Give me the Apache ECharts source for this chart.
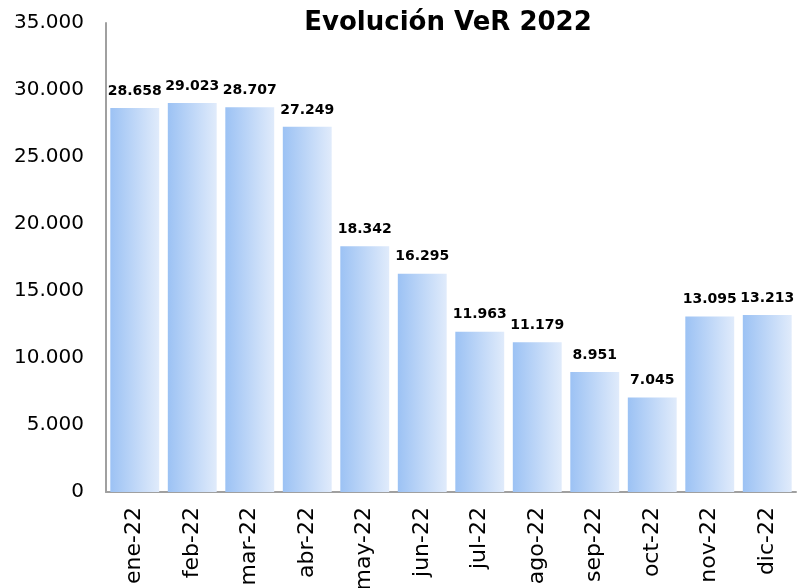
<!DOCTYPE html>
<html>
<head>
<meta charset="utf-8">
<script src="https://cdn.jsdelivr.net/npm/echarts@6/dist/echarts.min.js"></script>
<style>
  html, body { margin: 0; padding: 0; background: #fff; }
  #chart { width: 797px; height: 588px; }
</style>
</head>
<body>
<div id="chart"></div>
<script>
// datos
const months = ["ene-22", "feb-22", "mar-22", "abr-22", "may-22", "jun-22",
  "jul-22", "ago-22", "sep-22", "oct-22", "nov-22", "dic-22"]
const ver = [28658, 29023, 28707, 27249, 18342, 16295, 11963, 11179, 8951, 7045, 13095, 13213]

const fmt = v => String(v).replace(/\B(?=(\d{3})+(?!\d))/g, ".")

const chart = echarts.init(document.getElementById("chart"))

chart.setOption({
  animation: false,
  backgroundColor: "#fff",
  textStyle: { fontFamily: "DejaVu Sans" },
  title: {
    text: "Evolución VeR 2022",
    left: 443,
    top: 5,
    textAlign: "center",
    textStyle: { fontFamily: "DejaVu Sans", fontSize: 26, fontWeight: "bold", color: "#000" },
  },
  grid: { left: 106, right: 1, top: 23, bottom: 96, containLabel: false, outerBoundsMode: "none" },
  xAxis: {
    type: "category",
    data: months,
    axisLine: { lineStyle: { color: "#a0a0a0", width: 2 } },
    axisTick: { show: false },
    axisLabel: { rotate: 90, fontSize: 22, fontFamily: "DejaVu Sans", color: "#000", margin: 15 },
  },
  yAxis: {
    type: "value",
    min: 0,
    max: 35000,
    interval: 5000,
    axisLine: { show: true, lineStyle: { color: "#a0a0a0", width: 2 } },
    axisTick: { show: false },
    splitLine: { show: false },
    axisLabel: { fontSize: 20, fontFamily: "DejaVu Sans", color: "#000", margin: 22, formatter: fmt },
  },
  series: [
    {
      type: "bar",
      data: ver,
      barCategoryGap: "15%",
      itemStyle: {
        color: {
          type: "linear", x: 0, y: 0, x2: 1, y2: 0,
          colorStops: [
            { offset: 0, color: "#9cc2f4" },
            { offset: 1, color: "#e0ebfb" },
          ],
        },
      },
      label: {
        show: true,
        position: "top",
        distance: 10,
        fontSize: 14,
        fontFamily: "DejaVu Sans",
        fontWeight: "bold",
        color: "#000",
        formatter: p => fmt(p.value),
      },
    },
  ],
})
</script>
</body>
</html>
